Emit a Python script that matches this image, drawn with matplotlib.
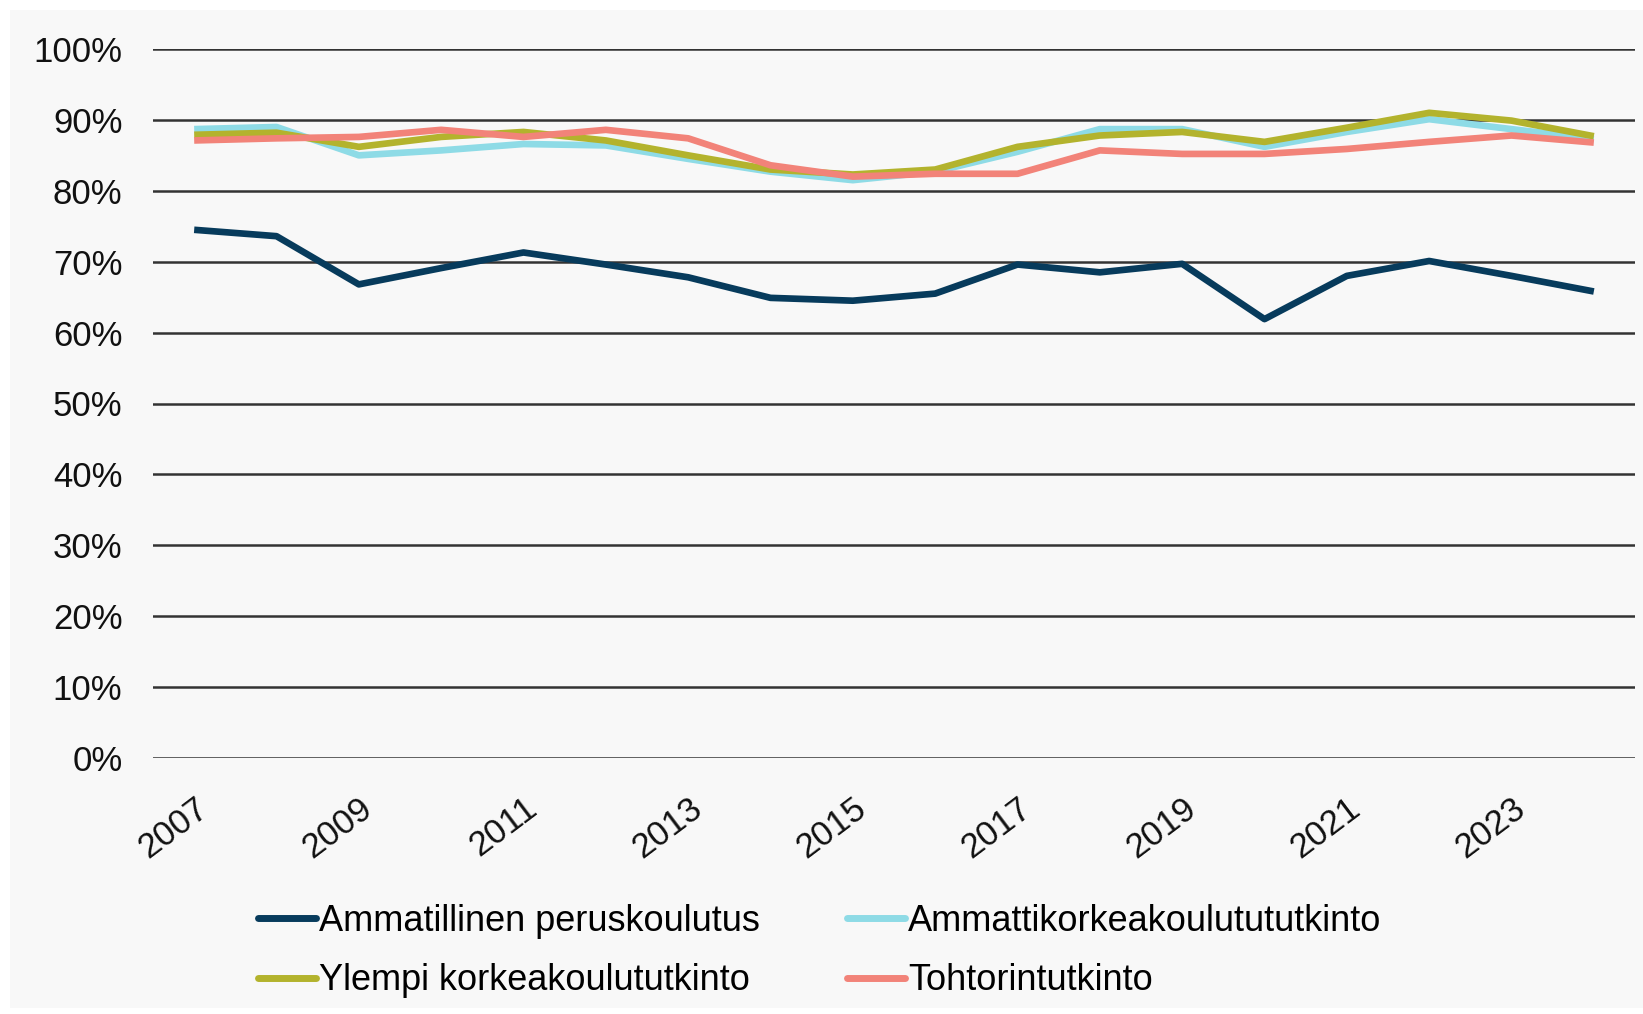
import matplotlib
matplotlib.use("Agg")
import matplotlib.pyplot as plt
from matplotlib.patches import Rectangle
from matplotlib.ticker import FuncFormatter

years = list(range(2007, 2025))

ammatillinen = [74.5, 73.6, 66.8, 69.1, 71.3, 69.6, 67.8, 64.9, 64.5, 65.5,
                69.6, 68.5, 69.7, 61.9, 68.0, 70.1, 68.0, 65.8]
amk = [88.7, 89.0, 85.0, 85.7, 86.6, 86.4, 84.5, 82.7, 81.5, 82.7,
       85.5, 88.7, 88.7, 86.2, 88.3, 90.1, 88.7, 87.3]
ylempi = [87.9, 88.2, 86.2, 87.6, 88.3, 87.1, 85.0, 83.0, 82.3, 83.0,
          86.2, 87.8, 88.3, 86.9, 88.9, 91.0, 89.9, 87.7]
tohtori = [87.1, 87.4, 87.6, 88.6, 87.6, 88.6, 87.4, 83.6, 82.0, 82.4,
           82.4, 85.7, 85.2, 85.2, 85.9, 86.9, 87.8, 86.8]

labels = ["Ammatillinen peruskoulutus", "Ammattikorkeakoulutututkinto",
          "Ylempi korkeakoulututkinto", "Tohtorintutkinto"]
colors = ["#073b5c", "#8edbe6", "#b3b32d", "#f28379"]

plt.rcParams['font.family'] = ['Liberation Sans', 'DejaVu Sans']

fig = plt.figure(figsize=(16.43, 10.14), dpi=100, facecolor="white")
# light grey panel behind everything
fig.patches.append(Rectangle((10 / 1643, 6 / 1014), 1 - 10 / 1643, 1 - 16 / 1014,
                             transform=fig.transFigure, facecolor="#f8f8f8",
                             edgecolor="none", zorder=-10))

ax = fig.add_axes([153 / 1643, 1 - 758 / 1014, (1635 - 153) / 1643, (758 - 49) / 1014])
ax.set_facecolor("none")
ax.set_zorder(1)

x = list(range(len(years)))
for vals, lab, col in zip([ammatillinen, amk, ylempi, tohtori], labels, colors):
    ax.plot(x, vals, color=col, lw=4.8, label=lab, solid_capstyle="butt", zorder=3)

ax.set_ylim(0, 100)
ax.set_xlim(-0.5, len(years) - 0.5)
ax.set_yticks(range(0, 101, 10))
ax.yaxis.set_major_formatter(FuncFormatter(lambda v, p: f"{int(v)}%"))
ax.grid(axis="y", color="#333333", lw=1.8, zorder=1)
ax.set_axisbelow(True)
for s in ax.spines.values():
    s.set_visible(False)

ax.set_xticks(x[::2])
ax.set_xticklabels([str(y) for y in years[::2]], rotation=37, ha="right",
                   rotation_mode="anchor")
ax.tick_params(axis="both", length=0, labelsize=25, colors="#111111")
ax.tick_params(axis="y", pad=22)
ax.tick_params(axis="x", pad=24)
for t in ax.get_xticklabels():
    t.set_x(t.get_position()[0])

h, l = ax.get_legend_handles_labels()
order = [0, 2, 1, 3]
leg = fig.legend([h[i] for i in order], [l[i] for i in order], ncol=2, loc="center",
                 bbox_to_anchor=(0.499, 0.062), frameon=False,
                 prop={"size": 26},
                 handlelength=1.6, handletextpad=0.1, columnspacing=2.4, labelspacing=0.68)
for line in leg.get_lines():
    line.set_linewidth(5)
    line.set_solid_capstyle("round")

plt.savefig("out.png", dpi=100, facecolor="white")
